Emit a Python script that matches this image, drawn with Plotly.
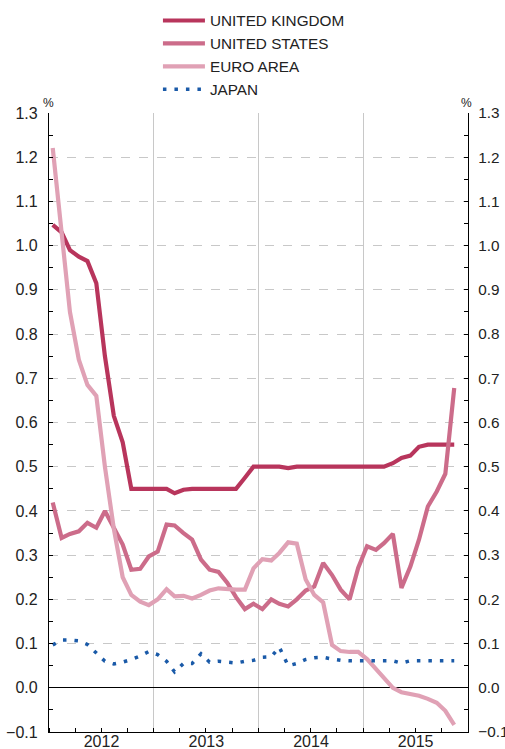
import pandas as pd
import plotly.graph_objects as go

months = pd.date_range("2012-01-01", periods=47, freq="MS") + pd.Timedelta(days=13)

uk = [1.047, 1.03, 0.99, 0.975, 0.965, 0.915, 0.75, 0.615, 0.555, 0.45, 0.45, 0.45,
      0.45, 0.45, 0.44, 0.448, 0.45, 0.45, 0.45, 0.45, 0.45, 0.45, 0.475, 0.50,
      0.50, 0.50, 0.50, 0.497, 0.50, 0.50, 0.50, 0.50, 0.50, 0.50, 0.50, 0.50,
      0.50, 0.50, 0.50, 0.508, 0.52, 0.525, 0.545, 0.55, 0.55, 0.55, 0.55]

us = [0.419, 0.339, 0.348, 0.354, 0.373, 0.362, 0.40, 0.36, 0.324, 0.267, 0.269, 0.297,
      0.308, 0.369, 0.367, 0.35, 0.335, 0.29, 0.267, 0.262, 0.237, 0.205, 0.178, 0.19,
      0.178, 0.20, 0.19, 0.184, 0.20, 0.22, 0.229, 0.282, 0.255, 0.222, 0.20, 0.271,
      0.32, 0.312, 0.327, 0.348, 0.226, 0.274, 0.335, 0.41, 0.444, 0.484, 0.678]

euro = [1.221, 1.035, 0.85, 0.742, 0.685, 0.66, 0.50, 0.36, 0.25, 0.21, 0.195, 0.187,
        0.20, 0.223, 0.207, 0.208, 0.202, 0.21, 0.22, 0.225, 0.223, 0.222, 0.222, 0.27,
        0.291, 0.288, 0.305, 0.329, 0.326, 0.245, 0.21, 0.193, 0.097, 0.083, 0.081, 0.081,
        0.065, 0.042, 0.02, 0.0, -0.01, -0.014, -0.018, -0.025, -0.034, -0.052, -0.084]

japan = [0.097, 0.108, 0.108, 0.106, 0.098, 0.08, 0.06, 0.054, 0.058, 0.064, 0.072, 0.082,
         0.075, 0.06, 0.036, 0.055, 0.055, 0.077, 0.058, 0.06, 0.057, 0.056, 0.06, 0.062,
         0.069, 0.07, 0.092, 0.05, 0.055, 0.064, 0.068, 0.069, 0.065, 0.062, 0.061, 0.061,
         0.061, 0.061, 0.061, 0.061, 0.056, 0.061, 0.061, 0.061, 0.061, 0.061, 0.061]

names = ["UNITED KINGDOM", "UNITED STATES", "EURO AREA", "JAPAN"]
colors = ["#b8355c", "#cc6c8a", "#e0a1b5", "#1a5aa8"]

FONT = "Liberation Sans, Arial, Helvetica, sans-serif"
FS = 16

fig = go.Figure()
for name, vals, col in zip(names[:3], [uk, us, euro], colors[:3]):
    fig.add_trace(go.Scatter(x=months, y=vals, name=name, mode="lines",
                             line=dict(color=col, width=4.2)))
fig.add_trace(go.Scatter(x=months, y=japan, name=names[3], mode="lines",
                         line=dict(color=colors[3], width=3.5, dash="3.5px,8px")))
fig.add_trace(go.Scatter(x=months[:1], y=[None], yaxis="y2", showlegend=False,
                         hoverinfo="skip"))

yax = dict(range=[-0.1, 1.3], dtick=0.1, tick0=0, tickformat=".1f", automargin=False,
           ticks="inside", ticklen=4, tickcolor="black", showline=True,
           linecolor="black", linewidth=1.3,
           minor=dict(dtick=0.05, ticks="inside", ticklen=4, tickcolor="black", showgrid=False))

fig.update_layout(
    width=505, height=749,
    margin=dict(l=49, r=37, t=113, b=17, autoexpand=False),
    plot_bgcolor="white", paper_bgcolor="white",
    font=dict(family=FONT, size=FS, color="#222"),
    showlegend=True,
    legend=dict(x=0.26, y=1.176, xanchor="left", yanchor="top", itemwidth=42,
                bgcolor="rgba(0,0,0,0)", font=dict(size=15.3, color="#222")),
    xaxis=dict(type="date", range=["2012-01-01", "2016-01-01"], automargin=False,
               dtick="M12", tick0="2012-01-01", ticklabelmode="period",
               tickformat="%Y", ticks="inside", ticklen=4, tickcolor="black",
               showline=True, linecolor="black", linewidth=1.3,
               showgrid=True, gridcolor="#c8c8c8", gridwidth=1,
               ticklabelstandoff=-5,
               minor=dict(dtick="M3", ticks="inside", ticklen=4, tickcolor="black", showgrid=False),
               tickfont=dict(family=FONT, size=FS, color="#222")),
    yaxis=dict(**yax, showgrid=True, gridcolor="#c8c8c8", griddash="dash",
               zeroline=True, zerolinecolor="black", zerolinewidth=1.2,
               ticklabelstandoff=7, tickfont=dict(family=FONT, size=FS, color="#222")),
    yaxis2=dict(**yax, overlaying="y", side="right", showgrid=False, zeroline=False,
                ticklabelstandoff=6, tickfont=dict(family=FONT, size=15.3, color="#222")),
    annotations=[
        dict(text="%", xref="paper", yref="paper", x=0, y=1, xanchor="center",
             yanchor="bottom", yshift=1, xshift=-1, showarrow=False, font=dict(size=12)),
        dict(text="%", xref="paper", yref="paper", x=1, y=1, xanchor="center",
             yanchor="bottom", yshift=1, xshift=-2, showarrow=False, font=dict(size=12)),
    ],
)

fig.write_html("out.html", config={"displayModeBar": False},
               post_script="document.body.style.margin='0';document.body.style.overflow='hidden';")
